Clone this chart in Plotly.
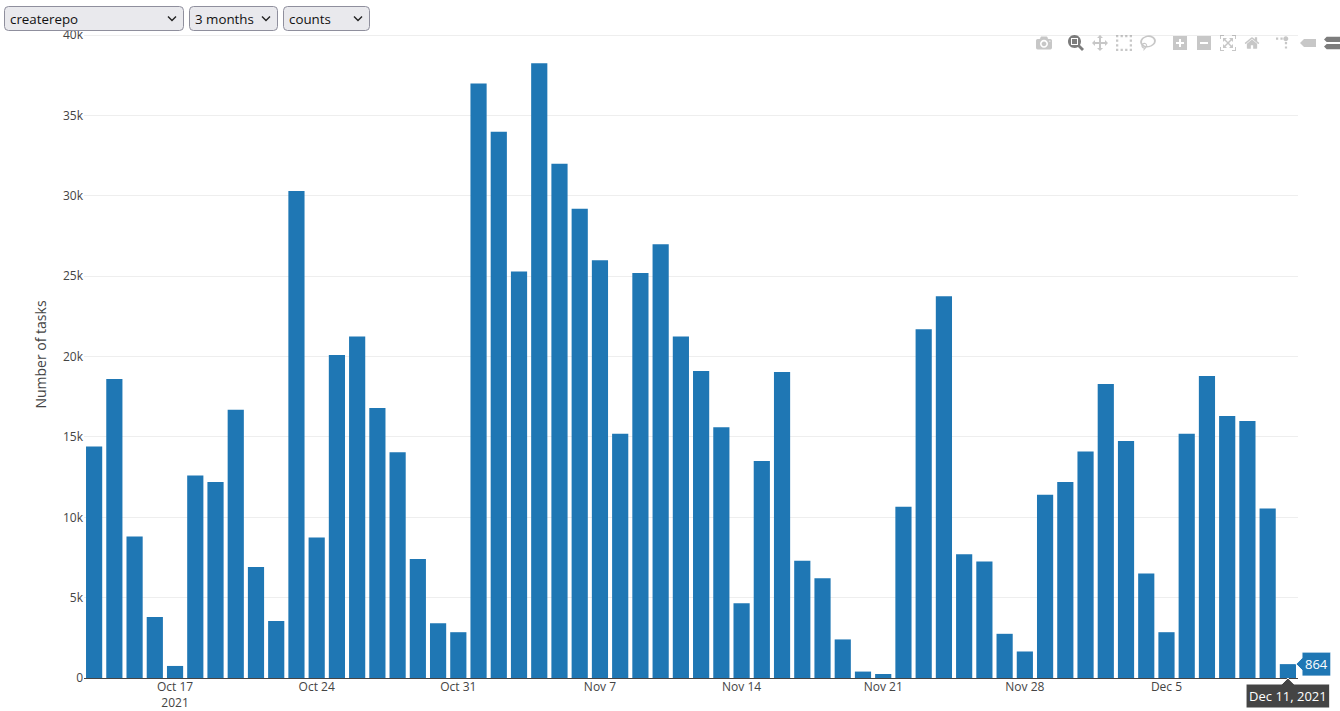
import plotly.graph_objects as go
import pandas as pd

start_date = "2021-10-13"
task_counts = [
    14400, 18600, 8800, 3800, 750, 12600, 12200, 16700, 6900, 3550,
    30300, 8750, 20100, 21250, 16800, 14050, 7400, 3400, 2850,
    37000, 34000, 25300, 38250, 32000, 29200, 26000, 15200, 25200, 27000, 21250,
    19100, 15600, 4650, 13500, 19050, 7300, 6200, 2400, 400, 250,
    10650, 21700, 23750, 7700, 7250, 2750, 1650, 11400, 12200,
    14100, 18300, 14750, 6500, 2850, 15200, 18800, 16300, 16000, 10550, 864,
]
dates = pd.date_range(start_date, periods=len(task_counts), freq="D")
y_title = "Number of tasks"
select_labels = ["createrepo", "3 months", "counts"]

W, H = 1378, 711
L, R, T, B = 84, 80, 31, 33
PW, PH = W - L - R, H - T - B


def px(x):
    return (x - L) / PW


def py(y):
    return (H - B - y) / PH


def round_rect(x0, y0, x1, y1, r=4):
    pts = [
        f"M{px(x0 + r)},{py(y0)}", f"L{px(x1 - r)},{py(y0)}", f"Q{px(x1)},{py(y0)} {px(x1)},{py(y0 + r)}",
        f"L{px(x1)},{py(y1 - r)}", f"Q{px(x1)},{py(y1)} {px(x1 - r)},{py(y1)}",
        f"L{px(x0 + r)},{py(y1)}", f"Q{px(x0)},{py(y1)} {px(x0)},{py(y1 - r)}",
        f"L{px(x0)},{py(y0 + r)}", f"Q{px(x0)},{py(y0)} {px(x0 + r)},{py(y0)}", "Z",
    ]
    return " ".join(pts)


boxes = [(4.5, 6.5, 183.5, 30.5), (189.5, 6.5, 277.5, 30.5), (283.5, 6.5, 369.5, 30.5)]
shapes, annotations = [], []
for (x0, y0, x1, y1), label in zip(boxes, select_labels):
    shapes.append(dict(type="path", xref="paper", yref="paper", path=round_rect(x0, y0, x1, y1),
                       fillcolor="#e9e9ed", line=dict(color="#8f8f9d", width=1), layer="above"))
    cx = x1 - 11.5
    shapes.append(dict(type="path", xref="paper", yref="paper",
                       path=f"M{px(cx - 4)},{py(16.5)} L{px(cx)},{py(20.5)} L{px(cx + 4)},{py(16.5)}",
                       line=dict(color="#222222", width=1.4), layer="above"))
    annotations.append(dict(text=label, xref="paper", yref="paper", x=px(x0 + 3.5), y=py(19),
                            xanchor="left", yanchor="middle", showarrow=False,
                            font=dict(family="Open Sans", size=13.33, color="#111111")))

fig = go.Figure(go.Bar(x=dates, y=task_counts, marker_color="#1f77b4"))
fig.update_layout(
    width=W, height=H, autosize=False,
    margin=dict(l=L, r=R, t=T, b=B, pad=0),
    paper_bgcolor="rgba(0,0,0,0)", plot_bgcolor="white",
    template="none",
    font=dict(family='"Open Sans", verdana, arial, sans-serif', size=12, color="#444"),
    hovermode="x", showlegend=False,
    hoverlabel=dict(font=dict(family="Open Sans", size=13)),
    modebar=dict(bgcolor="rgba(255,255,255,0)", color="rgba(68,68,68,0.3)", activecolor="rgba(68,68,68,0.7)"),
    shapes=shapes, annotations=annotations,
    xaxis=dict(type="date", hoverformat="%b %d, %Y", showgrid=False, zeroline=False, ticks="", showline=False,
               tickfont=dict(size=12)),
    yaxis=dict(title=dict(text=y_title, font=dict(size=14)), gridcolor="#eee", gridwidth=1,
               zeroline=True, zerolinecolor="#444", zerolinewidth=1, ticks="", showline=False,
               tickformat="~s", automargin=False),
)

post = """
var st = document.createElement('style');
st.textContent = 'html,body{margin:0;padding:0;overflow:hidden;background:#fff}.modebar-container{top:30px !important}';
document.head.appendChild(st);
var gd = document.getElementById('{plot_id}');
function showHover(){ Plotly.Fx.hover(gd, {xval: gd._fullLayout.xaxis.d2c('%s')}, 'xy'); }
setTimeout(showHover, 150);
""" % dates[-1].strftime("%Y-%m-%d")

config = {
    "displayModeBar": True,
    "modeBarButtonsToAdd": ["togglespikelines", "hoverclosest", "hovercompare"],
}
fig.write_html("out.html", config=config, post_script=post)
